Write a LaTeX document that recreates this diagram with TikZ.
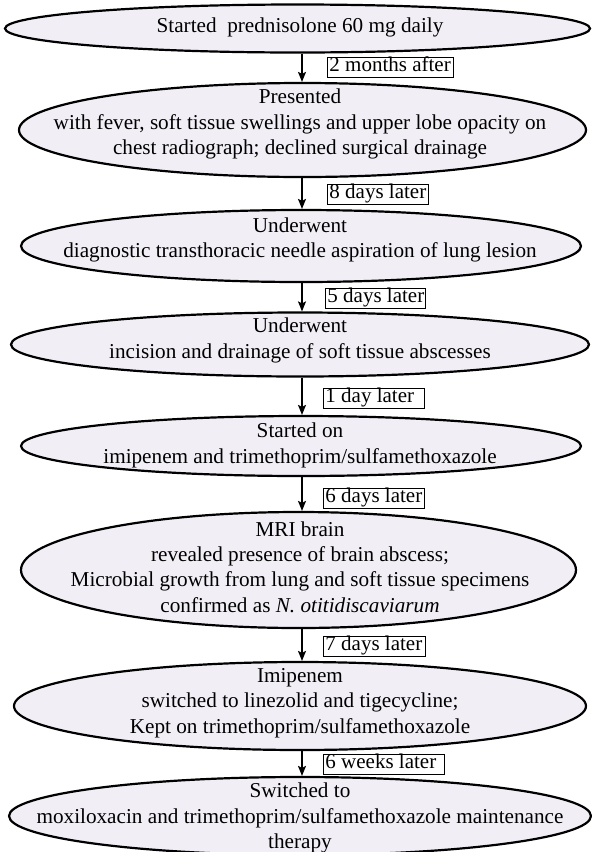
\documentclass[tikz,border=0pt]{standalone}
\usepackage{fontspec}
\setmainfont{Liberation Serif}
\usetikzlibrary{shapes.geometric,arrows.meta,calc}
\definecolor{evfill}{RGB}{242,238,246}
\newcommand{\gapbox}[2]{\makebox[#1][l]{#2}}
\tikzset{
  evshape/.style={ellipse, draw=black, line width=2.2pt, fill=evfill, inner sep=0pt},
  evtext/.style={align=center, inner sep=0pt, font=\fontsize{21.2}{25.3}\selectfont},
  gaplabel/.style={draw=black, line width=0.9pt, fill=white, anchor=west,
    inner xsep=2pt, inner ysep=0.5pt, text height=14pt, text depth=5pt,
    font=\fontsize{21}{25}\selectfont},
  flow/.style={line width=1.4pt, -{Stealth[length=10pt,width=8pt,inset=2pt]}}
}
\begin{document}
\begin{tikzpicture}[x=1pt,y=-1pt]
\useasboundingbox (0,0) rectangle (592,852);
\fill[white] (0,0) rectangle (592,852);
\coordinate (ax) at (302,0);
% ellipses
\node[evshape, minimum width=585pt, minimum height=48pt] (e1) at (297.5,28.5) {};
\node[evshape, minimum width=567pt, minimum height=94pt] (e2) at (302.5,130) {};
\node[evshape, minimum width=560pt, minimum height=72pt] (e3) at (301,246) {};
\node[evshape, minimum width=578pt, minimum height=64pt] (e4) at (300,344.5) {};
\node[evshape, minimum width=560pt, minimum height=60pt] (e5) at (301,446) {};
\node[evshape, minimum width=555pt, minimum height=116pt] (e6) at (298.5,570) {};
\node[evshape, minimum width=572pt, minimum height=88pt] (e7) at (300,706) {};
\node[evshape, minimum width=582pt, minimum height=78pt] (e8) at (300,816) {};
% texts
\node[evtext] (t1) at (300,27) {Started~ prednisolone 60 mg daily};
\node[evtext] (t2) at (300,124) {Presented\\with fever, soft tissue swellings and upper lobe opacity on\\chest radiograph; declined surgical drainage};
\node[evtext] (t3) at (300,240) {Underwent\\diagnostic transthoracic needle aspiration of lung lesion};
\node[evtext] (t4) at (300,340.5) {Underwent\\incision and drainage of soft tissue abscesses};
\node[evtext] (t5) at (300,445.5) {Started on\\imipenem and trimethoprim/sulfamethoxazole};
\node[evtext] (t6) at (300,567) {MRI brain\\revealed presence of brain abscess;\\Microbial growth from lung and soft tissue specimens\\confirmed as \textit{N. otitidiscaviarum}};
\node[evtext] (t7) at (300,703) {Imipenem\\switched to linezolid and tigecycline;\\Kept on trimethoprim/sulfamethoxazole};
\node[evtext] (t8) at (300,818) {Switched to\\moxiloxacin and trimethoprim/sulfamethoxazole maintenance\\therapy};
% arrows
\draw[flow] (e1.south -| ax) -- (e2.north -| ax);
\draw[flow] (e2.south -| ax) -- (e3.north -| ax);
\draw[flow] (e3.south -| ax) -- (e4.north -| ax);
\draw[flow] (e4.south -| ax) -- (e5.north -| ax);
\draw[flow] (e5.south -| ax) -- (e6.north -| ax);
\draw[flow] (e6.south -| ax) -- (e7.north -| ax);
\draw[flow] (e7.south -| ax) -- (e8.north -| ax);
% labels
\node[gaplabel] (l1) at (327,67) {\gapbox{122pt}{2 months after}};
\node[gaplabel] (l2) at (327,194) {\gapbox{97pt}{8 days later}};
\node[gaplabel] (l3) at (325,298) {\gapbox{96pt}{5 days later}};
\node[gaplabel] (l4) at (323,398) {\gapbox{97pt}{1 day later}};
\node[gaplabel] (l5) at (323,498) {\gapbox{97pt}{6 days later}};
\node[gaplabel] (l6) at (323,646) {\gapbox{98pt}{7 days later}};
\node[gaplabel] (l7) at (323,764) {\gapbox{117pt}{6 weeks later}};
\end{tikzpicture}
\end{document}
